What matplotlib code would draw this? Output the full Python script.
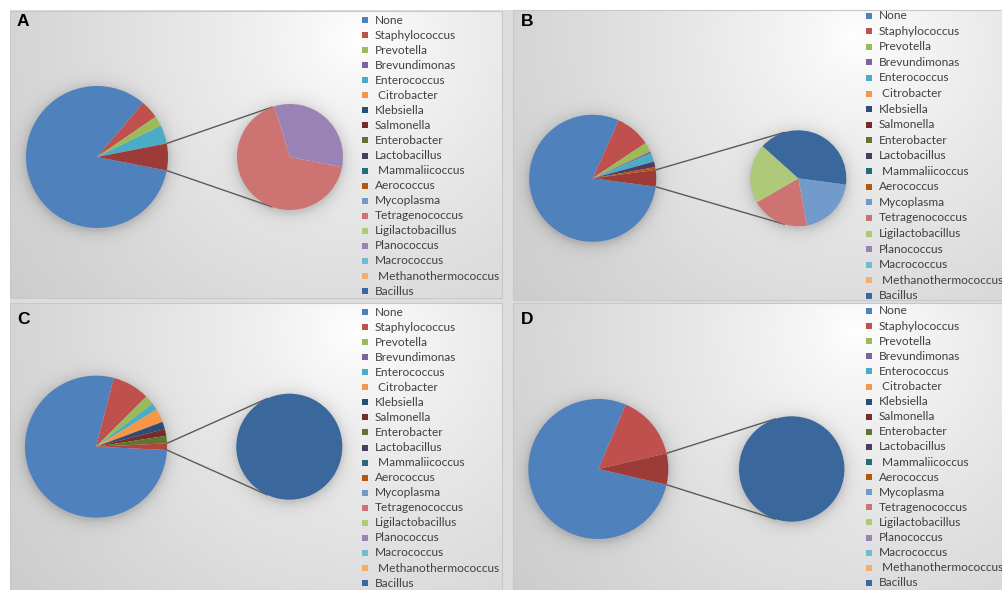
import numpy as np
import matplotlib
matplotlib.use("Agg")
import matplotlib.pyplot as plt
from matplotlib.patches import Rectangle

W, H = 1002, 590

# legend order (shared by all four panels) and palette
taxa = ["None", "Staphylococcus", "Prevotella", "Brevundimonas", "Enterococcus",
        "Citrobacter", "Klebsiella", "Salmonella", "Enterobacter", "Lactobacillus",
        "Mammaliicoccus", "Aerococcus", "Mycoplasma", "Tetragenococcus",
        "Ligilactobacillus", "Planococcus", "Macrococcus", "Methanothermococcus",
        "Bacillus"]
padded = {"Citrobacter", "Mammaliicoccus", "Methanothermococcus"}
palette = ["#4F81BD", "#C0504D", "#9BBB59", "#8064A2", "#4BACC6", "#F79646",
           "#2C4D75", "#772C2A", "#5F7530", "#4D3B62", "#276A7C", "#B65708",
           "#729ACA", "#CD7371", "#AFC97A", "#9983B5", "#6FBDD1", "#F9AB6B",
           "#3A679C"]
color_of = dict(zip(taxa, palette))

# panel A
a_main = ["None", "Staphylococcus", "Prevotella", "Enterococcus"]
a_main_vals = [83.1, 4.2, 2.3, 4.2]
a_sub = ["Tetragenococcus", "Planococcus"]
a_sub_vals = [4.1, 2.0]

# panel B
b_main = ["None", "Staphylococcus", "Prevotella", "Brevundimonas", "Enterococcus",
          "Lactobacillus", "Aerococcus"]
b_main_vals = [79.2, 8.9, 2.4, 0.5, 2.2, 1.4, 0.7]
b_sub = ["Mycoplasma", "Tetragenococcus", "Ligilactobacillus", "Bacillus"]
b_sub_vals = [0.84, 0.82, 0.84, 1.70]

# panel C
c_main = ["None", "Staphylococcus", "Prevotella", "Enterococcus", "Citrobacter",
          "Klebsiella", "Salmonella", "Enterobacter"]
c_main_vals = [78.5, 8.5, 2.1, 1.6, 3.1, 1.7, 1.55, 1.7]
c_sub = ["Bacillus"]
c_sub_vals = [1.5]

# panel D
d_main = ["None", "Staphylococcus"]
d_main_vals = [77.8, 15.0]
d_sub = ["Bacillus"]
d_sub_vals = [7.2]

# layout in image pixels (x right, y down)
panels = [
    dict(tag="A", main=a_main, mv=a_main_vals, sub=a_sub, sv=a_sub_vals,
         rect=(10, 11, 502, 298), c1=(97, 157), r1=71, c2=(290, 157), r2=53,
         other="#9D3B38", leg=(362, 20, 15.06), letter=(17, 22)),
    dict(tag="B", main=b_main, mv=b_main_vals, sub=b_sub, sv=b_sub_vals,
         rect=(513, 10, 1002, 300), c1=(592.7, 178.3), r1=63.5, c2=(798.3, 178.3), r2=48,
         other="#9D3B38", leg=(866, 15.7, 15.56), letter=(521, 22)),
    dict(tag="C", main=c_main, mv=c_main_vals, sub=c_sub, sv=c_sub_vals,
         rect=(10, 303, 502, 590), c1=(96, 446.7), r1=71, c2=(289.3, 446.7), r2=53,
         other="#B4423F", leg=(362, 312, 15.06), letter=(17, 320)),
    dict(tag="D", main=d_main, mv=d_main_vals, sub=d_sub, sv=d_sub_vals,
         rect=(513, 303, 1002, 590), c1=(598.3, 469), r1=70, c2=(791.7, 469), r2=52.7,
         other="#9D3B38", leg=(866, 311, 15.1), letter=(521, 319)),
]

# ---- background: radial gray gradient per panel plus soft pie shadows ----
yy, xx = np.mgrid[0:H, 0:W] + 0.5
bg = np.ones((H, W))
gap = (xx >= 10) & (yy >= 10)
bg[gap] = 0.87
for p in panels:
    x0, y0, x1, y1 = p["rect"]
    m = (xx >= x0) & (xx < x1) & (yy >= y0) & (yy < y1)
    gx, gy = x0 + 0.70 * (x1 - x0), y0 + 0.10 * (y1 - y0)
    rmax = np.hypot(max(gx - x0, x1 - gx), max(gy - y0, y1 - gy))
    d = np.hypot(xx - gx, yy - gy) / rmax
    v = 1 - 0.2 * np.clip(d, 0, 1) ** 0.8
    for (cx, cy), r in [(p["c1"], p["r1"]), (p["c2"], p["r2"])]:
        dd = np.hypot(xx - cx, yy - (cy + 2)) - r
        v = v - 0.13 * np.exp(-np.clip(dd, 0, None) / 6.0) * (dd > -3)
    bg[m] = v[m]
rgb = np.dstack([bg, bg, bg])

fig = plt.figure(figsize=(W / 100, H / 100), dpi=100)
ax = fig.add_axes([0, 0, 1, 1])
ax.imshow(rgb, extent=(0, W, 0, H), origin="upper", interpolation="bilinear", zorder=0)
ax.set_xlim(0, W)
ax.set_ylim(0, H)
ax.set_aspect("equal")
ax.axis("off")

for p in panels:
    x0, y0, x1, y1 = p["rect"]
    ax.add_patch(Rectangle((x0, H - y1), x1 - x0, y1 - y0, fill=False,
                           ec="#C8C8C8", lw=0.8, zorder=1))

    other = sum(p["sv"])
    total = sum(p["mv"]) + other
    half = 180.0 * other / total
    cx1, cy1 = p["c1"][0], H - p["c1"][1]
    cx2, cy2 = p["c2"][0], H - p["c2"][1]

    main_cols = [color_of[t] for t in p["main"]] + [p["other"]]
    ax.pie(p["mv"] + [other], colors=main_cols, center=(cx1, cy1), radius=p["r1"],
           startangle=-half, counterclock=False, frame=True,
           wedgeprops=dict(linewidth=0, zorder=3))
    ax.pie(p["sv"], colors=[color_of[t] for t in p["sub"]], center=(cx2, cy2),
           radius=p["r2"], startangle=-half, counterclock=False, frame=True,
           wedgeprops=dict(linewidth=0, zorder=3))

    # connector lines: from the corners of the "other" slice, tangent to the second pie
    for sgn in (1, -1):
        a = np.radians(sgn * half)
        px, py = cx1 + p["r1"] * np.cos(a), cy1 + p["r1"] * np.sin(a)
        dist = np.hypot(px - cx2, py - cy2)
        base = np.arctan2(py - cy2, px - cx2)
        t = base - sgn * np.arccos(p["r2"] / dist)
        tx, ty = cx2 + p["r2"] * np.cos(t), cy2 + p["r2"] * np.sin(t)
        ax.plot([px, tx], [py, ty], color="#5A5A5A", lw=1.0, zorder=2,
                solid_capstyle="butt")

    lx, ly, step = p["leg"]
    for i, t in enumerate(taxa):
        yc = H - (ly + i * step)
        ax.add_patch(Rectangle((lx, yc - 3), 6, 6, color=color_of[t], lw=0, zorder=4))
        label = (" " + t) if t in padded else t
        ax.text(lx + 13, yc, label, fontsize=8.6, family="Lato", color="#404040",
                va="center", ha="left", zorder=4)

    ax.text(p["letter"][0], H - p["letter"][1], p["tag"], fontsize=12.5,
            family="Liberation Sans", fontweight="bold", va="center", ha="left",
            color="black", zorder=4)

ax.set_xlim(0, W)
ax.set_ylim(0, H)
fig.savefig("out.png", dpi=100)
